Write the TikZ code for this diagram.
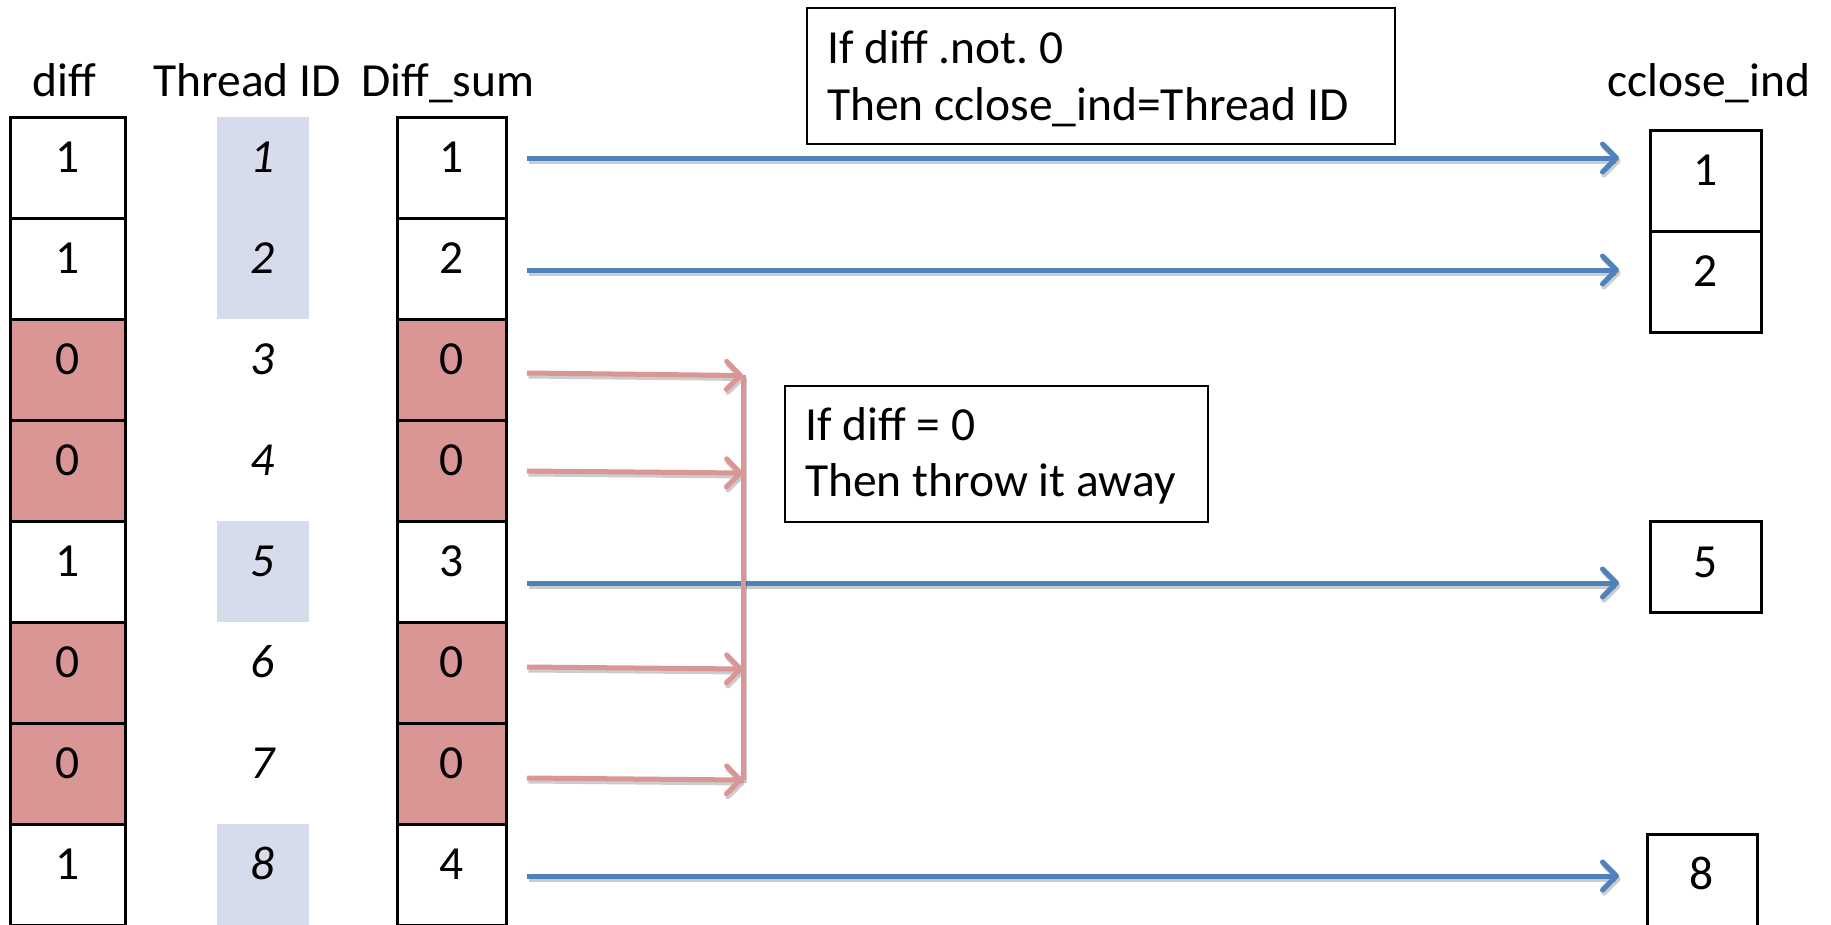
\documentclass[tikz,border=0pt]{standalone}
\usepackage{fontspec}
\setmainfont{Carlito}
\usetikzlibrary{arrows.meta}
\definecolor{zerofill}{HTML}{D99694}
\definecolor{idfill}{HTML}{D7DCEC}
\definecolor{passblue}{HTML}{4F81BD}
\definecolor{dropred}{HTML}{D99694}
\frenchspacing
\begin{document}
\begin{tikzpicture}[x=1pt,y=-1pt,
  txt/.style={font=\fontsize{47.5}{56}\selectfont, inner sep=0pt},
  cell/.style={txt, draw=black, line width=3pt, minimum height=101pt,
               text height=30pt, text depth=21pt},
  diffcell/.style={cell, minimum width=115pt},
  sumcell/.style={cell, minimum width=109pt},
  outcell/.style={cell, minimum width=111pt},
  idcell/.style={txt, font=\fontsize{47.5}{56}\selectfont\itshape,
                 minimum width=92pt, minimum height=101pt,
                 text height=30pt, text depth=21pt},
  live/.style={fill=white},
  dead/.style={fill=zerofill},
  idlive/.style={fill=idfill},
  iddead/.style={},
  note/.style={draw=black, line width=2pt, fill=white, inner sep=0pt},
  arrowline/.style={line width=5pt, -{Straight Barb[length=14pt,width=28pt,round]}},
  passarrow/.style={arrowline, draw=passblue},
  droparrow/.style={arrowline, draw=dropred},
  dropbar/.style={line width=5pt, draw=dropred},
  castshadow/.style={draw=black, opacity=0.2,
                     transform canvas={shift={(1.5pt,-3pt)}}},
]
\useasboundingbox (0,0) rectangle (1831,924);

% column headers
\node[txt, anchor=base] (hdiff)   at (64,96)   {diff};
\node[txt, anchor=base] (hid)     at (247,96)  {Thread ID};
\node[txt, anchor=base] (hsum)    at (448,96)  {Diff\_sum};
\node[txt, anchor=base] (hclose)  at (1709,96) {cclose\_ind};

% diff, thread id and prefix-sum columns
\foreach \i/\dv/\sv/\st/\ist in {1/1/1/live/idlive, 2/1/2/live/idlive,
    3/0/0/dead/iddead, 4/0/0/dead/iddead, 5/1/3/live/idlive,
    6/0/0/dead/iddead, 7/0/0/dead/iddead, 8/1/4/live/idlive} {
  \pgfmathsetmacro{\yc}{167.5+101*(\i-1)}
  \node[diffcell, \st] (d\i) at (67.5,\yc) {\dv};
  \node[idcell, \ist]  (t\i) at (263,\yc)  {\i};
  \node[sumcell, \st]  (s\i) at (451.5,\yc) {\sv};
}

% compacted output
\node[outcell] (c1) at (1705.5,180.5) {1};
\node[outcell] (c2) at (1705.5,281.5) {2};
\node[outcell, minimum height=91pt, text depth=9pt] (c5) at (1705.5,566.5) {5};
\node[cell, minimum width=110pt, minimum height=92pt, text depth=12pt] (c8) at (1702,880) {8};

% rule boxes
\node[note, minimum width=588pt, minimum height=136pt, anchor=north west] (ifnot) at (806,7) {};
\node[txt, anchor=base west] (ifnotA) at (827,63)    {If diff .not. 0};
\node[txt, anchor=base west] (ifnotB) at (827,120.5) {Then cclose\_ind=Thread ID};

\node[note, minimum width=423pt, minimum height=136pt, anchor=north west] (ifzero) at (784,385) {};
\node[txt, anchor=base west] (ifzeroA) at (805,440) {If diff = 0};
\node[txt, anchor=base west] (ifzeroB) at (805,496) {Then throw it away};

% arrow end points
\coordinate (p1s) at (527,158);   \coordinate (p1e) at (1619,158);
\coordinate (p2s) at (527,270);   \coordinate (p2e) at (1619,270);
\coordinate (p5s) at (527,583);   \coordinate (p5e) at (1619,583);
\coordinate (p8s) at (527,876);   \coordinate (p8e) at (1619,876);
\coordinate (r3s) at (527,373);   \coordinate (r3e) at (743,375.5);
\coordinate (r4s) at (527,471);   \coordinate (r4e) at (743,473);
\coordinate (r6s) at (527,667);   \coordinate (r6e) at (743,669);
\coordinate (r7s) at (527,778);   \coordinate (r7e) at (743,780);
\coordinate (bartop) at (743,375);
\coordinate (barbot) at (743,780);

% kept entries
\foreach \a/\b in {p1s/p1e, p2s/p2e, p5s/p5e, p8s/p8e} {
  \draw[arrowline, castshadow] (\a) -- (\b);
  \draw[passarrow] (\a) -- (\b);
}

% discarded entries
\draw[dropbar, castshadow] (bartop) -- (barbot);
\foreach \a/\b in {r3s/r3e, r4s/r4e, r6s/r6e, r7s/r7e} {
  \draw[arrowline, castshadow] (\a) -- (\b);
}
\draw[dropbar] (bartop) -- (barbot);
\foreach \a/\b in {r3s/r3e, r4s/r4e, r6s/r6e, r7s/r7e} {
  \draw[droparrow] (\a) -- (\b);
}
\end{tikzpicture}
\end{document}
